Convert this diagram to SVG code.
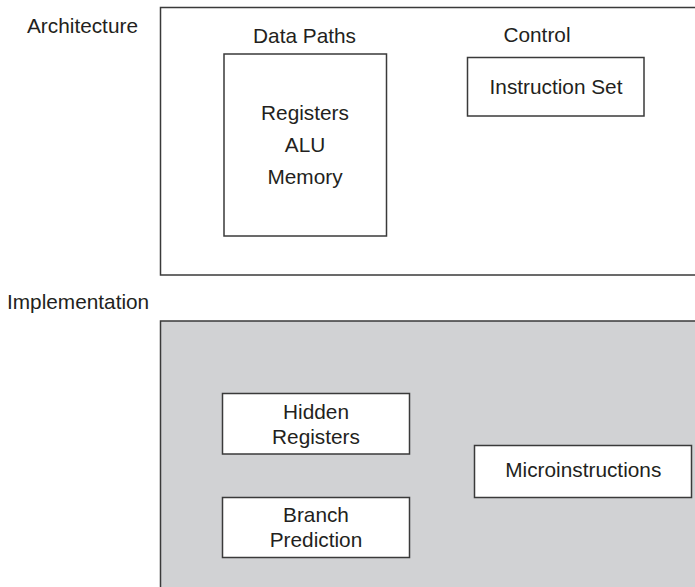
<svg xmlns="http://www.w3.org/2000/svg" width="695" height="587" viewBox="0 0 695 587">
  <style>
    .frame { fill: #ffffff; stroke: #3a3a3a; stroke-width: 1.5; }
    .shade { fill: #d1d2d4; stroke: #3a3a3a; stroke-width: 1.5; }
    .box { fill: #ffffff; stroke: #3a3a3a; stroke-width: 1.5; }
    text { font-family: "Liberation Sans", Arial, sans-serif; font-size: 20.8px; fill: #231f20; }
    .mid { text-anchor: middle; }
  </style>
  <rect width="695" height="587" fill="#ffffff"/>

  <!-- Architecture level -->
  <g id="architecture">
    <text x="27" y="33">Architecture</text>
    <rect class="frame" x="160.5" y="7.5" width="545" height="267.5"/>
  </g>
  <g id="data-paths">
    <text class="mid" x="304.5" y="42.5">Data Paths</text>
    <rect class="box" x="224" y="54" width="162.5" height="182"/>
    <text class="mid" x="305" y="120">Registers</text>
    <text class="mid" x="305" y="152">ALU</text>
    <text class="mid" x="305" y="184">Memory</text>
  </g>
  <g id="control">
    <text class="mid" x="537" y="41.5">Control</text>
    <rect class="box" x="467.5" y="57.5" width="176.5" height="58.5"/>
    <text class="mid" x="556" y="93.5">Instruction Set</text>
  </g>

  <!-- Implementation level -->
  <g id="implementation">
    <text x="7" y="309">Implementation</text>
    <rect class="shade" x="160.5" y="321" width="545" height="280"/>
  </g>
  <g id="hidden-registers">
    <rect class="box" x="222.5" y="393.5" width="187" height="60.5"/>
    <text class="mid" x="316" y="418.5">Hidden</text>
    <text class="mid" x="316" y="443.5">Registers</text>
  </g>
  <g id="branch-prediction">
    <rect class="box" x="222.5" y="497.5" width="187" height="60"/>
    <text class="mid" x="316" y="521.5">Branch</text>
    <text class="mid" x="316" y="546.5">Prediction</text>
  </g>
  <g id="microinstructions">
    <rect class="box" x="474.5" y="445.5" width="217" height="52"/>
    <text class="mid" x="583.3" y="477">Microinstructions</text>
  </g>

  <g id="connectors"></g>
</svg>
